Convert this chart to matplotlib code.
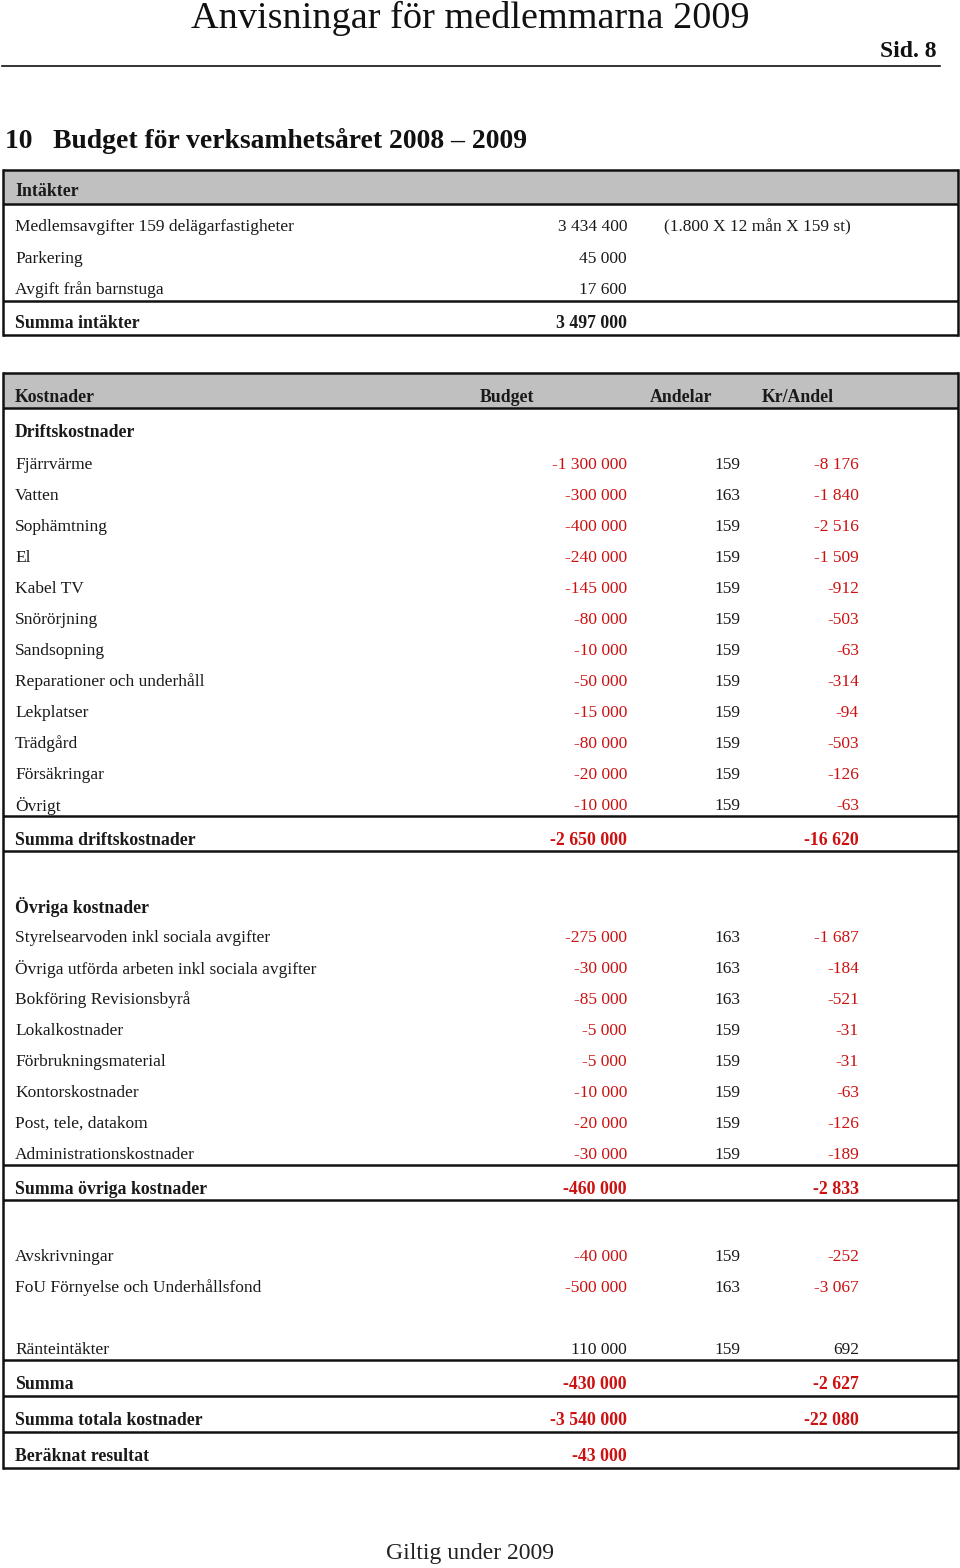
import matplotlib.pyplot as plt
from matplotlib.patches import Rectangle

plt.rcParams['font.family'] = ['Liberation Serif', 'DejaVu Serif']

# -----------------------
# DATA
# -----------------------

intakter_labels = ["Medlemsavgifter 159 delägarfastigheter", "Parkering", "Avgift från barnstuga"]
intakter_values = [3434400, 45000, 17600]
intakter_note = "(1.800 X 12 mån X 159 st)"
intakter_sum = 3497000

drift_labels = ["Fjärrvärme", "Vatten", "Sophämtning", "El", "Kabel TV", "Snörörjning",
                "Sandsopning", "Reparationer och underhåll", "Lekplatser", "Trädgård",
                "Försäkringar", "Övrigt"]
drift_budget = [-1300000, -300000, -400000, -240000, -145000, -80000,
                -10000, -50000, -15000, -80000, -20000, -10000]
drift_andelar = [159, 163, 159, 159, 159, 159, 159, 159, 159, 159, 159, 159]
drift_kr = [-8176, -1840, -2516, -1509, -912, -503, -63, -314, -94, -503, -126, -63]
drift_sum = (-2650000, -16620)

ovriga_labels = ["Styrelsearvoden inkl sociala avgifter", "Övriga utförda arbeten inkl sociala avgifter",
                 "Bokföring Revisionsbyrå", "Lokalkostnader", "Förbrukningsmaterial",
                 "Kontorskostnader", "Post, tele, datakom", "Administrationskostnader"]
ovriga_budget = [-275000, -30000, -85000, -5000, -5000, -10000, -20000, -30000]
ovriga_andelar = [163, 163, 163, 159, 159, 159, 159, 159]
ovriga_kr = [-1687, -184, -521, -31, -31, -63, -126, -189]
ovriga_sum = (-460000, -2833)

fond_labels = ["Avskrivningar", "FoU Förnyelse och Underhållsfond"]
fond_budget = [-40000, -500000]
fond_andelar = [159, 163]
fond_kr = [-252, -3067]

ranta = ("Ränteintäkter", 110000, 159, 692)

summary_labels = ["Summa", "Summa totala kostnader", "Beräknat resultat"]
summary_budget = [-430000, -3540000, -43000]
summary_kr = [-2627, -22080, None]

# -----------------------
# HELPERS
# -----------------------

RED = "#cc1111"
TXT = "#1a1a1a"
GRAY = "#c0c0c0"
FS = 12.5
FSB = 12.8
DY = 2  # text nudge down for regular rows

X_LABEL, X_BUDGET, X_ANDEL, X_KR = 15, 627, 740, 859
L, R = 3, 958


def fmt(v):
    s = f"{abs(v):,}".replace(",", " ")
    return ("-" if v < 0 else "") + s


def num(ax, x, y, v, bold=False):
    ax.text(x, y + (0.5 if bold else DY), fmt(v), ha='right', va='center',
            fontsize=FSB if bold else FS,
            color=RED if v < 0 else TXT, fontweight='bold' if bold else 'normal')


def label(ax, y, s, bold=False):
    ax.text(X_LABEL, y + (0.5 if bold else DY), s, ha='left', va='center',
            fontsize=FSB if bold else FS, color=TXT,
            fontweight='bold' if bold else 'normal')


def hline(ax, y, lw=1.8):
    ax.plot([L, R], [y, y], color="#111111", lw=lw, solid_capstyle='butt')


def row(ax, y, lab, b, a, k, bold=False):
    label(ax, y, lab, bold)
    if b is not None:
        num(ax, X_BUDGET, y, b, bold)
    if a is not None:
        ax.text(X_ANDEL, y + DY, str(a), ha='right', va='center', fontsize=FS, color=TXT)
    if k is not None:
        num(ax, X_KR, y, k, bold)


fig = plt.figure(figsize=(9.6, 15.68), dpi=100)
ax = fig.add_axes([0, 0, 1, 1])
ax.set_xlim(0, 960)
ax.set_ylim(1568, 0)
ax.axis('off')

# page header
ax.text(470, 18, "Anvisningar för medlemmarna 2009", ha='center', va='center', fontsize=27.5, color="#111111")
ax.text(936, 51, "Sid. 8", ha='right', va='center', fontsize=17, fontweight='bold', color="#111111")
ax.plot([2, 940], [66, 66], color="#111111", lw=1.2)
ax.text(5, 141, "10   Budget för verksamhetsåret 2008 – 2009", ha='left', va='center',
        fontsize=19.9, fontweight='bold', color="#111111")

# -----------------------
# INTÄKTER TABLE
# -----------------------
ax.add_patch(Rectangle((L, 170), R - L, 34, facecolor=GRAY, edgecolor='none'))
hline(ax, 170)
hline(ax, 204)
label(ax, 191, "Intäkter", bold=True)
for i, (lab, v) in enumerate(zip(intakter_labels, intakter_values)):
    y = 225 + i * 31.5
    label(ax, y, lab)
    num(ax, X_BUDGET, y, v)
ax.text(664, 225 + DY, intakter_note, ha='left', va='center', fontsize=FS, color=TXT)
hline(ax, 301)
label(ax, 323, "Summa intäkter", bold=True)
num(ax, X_BUDGET, 323, intakter_sum, bold=True)
hline(ax, 335)
for x in (L, R):
    ax.plot([x, x], [170, 335], color="#111111", lw=1.8)

# -----------------------
# KOSTNADER TABLE
# -----------------------
ax.add_patch(Rectangle((L, 373), R - L, 35, facecolor=GRAY, edgecolor='none'))
hline(ax, 373)
hline(ax, 408)
label(ax, 397, "Kostnader", bold=True)
for x, s in ((480, "Budget"), (650, "Andelar"), (762, "Kr/Andel")):
    ax.text(x, 397.5, s, ha='left', va='center', fontsize=FSB, fontweight='bold', color=TXT)

label(ax, 432, "Driftskostnader", bold=True)
for i in range(len(drift_labels)):
    row(ax, 463 + i * 31.0, drift_labels[i], drift_budget[i], drift_andelar[i], drift_kr[i])
hline(ax, 816)
row(ax, 840, "Summa driftskostnader", drift_sum[0], None, drift_sum[1], bold=True)
hline(ax, 851)

label(ax, 906, "Övriga kostnader", bold=True)
for i in range(len(ovriga_labels)):
    row(ax, 936 + i * 31.0, ovriga_labels[i], ovriga_budget[i], ovriga_andelar[i], ovriga_kr[i])
hline(ax, 1165)
row(ax, 1189, "Summa övriga kostnader", ovriga_sum[0], None, ovriga_sum[1], bold=True)
hline(ax, 1200)

for i in range(len(fond_labels)):
    row(ax, 1255 + i * 30.5, fond_labels[i], fond_budget[i], fond_andelar[i], fond_kr[i])

row(ax, 1348, *ranta)
hline(ax, 1360)
for i in range(len(summary_labels)):
    y = 1384 + i * 36
    row(ax, y, summary_labels[i], summary_budget[i], None, summary_kr[i], bold=True)
    hline(ax, y + 12)
for x in (L, R):
    ax.plot([x, x], [373, 1468], color="#111111", lw=1.8)

# footer
ax.text(470, 1554, "Giltig under 2009", ha='center', va='center', fontsize=17, color="#222222")

fig.savefig("out.png", dpi=100)
